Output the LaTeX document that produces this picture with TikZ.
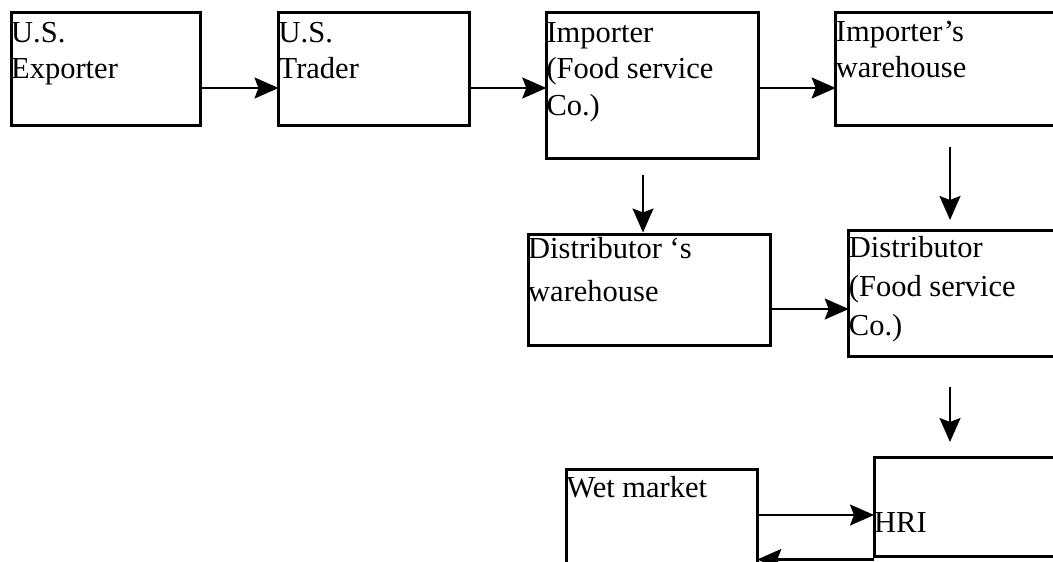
\documentclass[tikz,border=0pt]{standalone}
\usepackage{fontspec}
\setmainfont{Liberation Serif}
\usetikzlibrary{arrows.meta}

\begin{document}
\begin{tikzpicture}[x=1pt,y=-1pt,
	box/.style={draw,line width=3pt,rectangle,anchor=north west,inner sep=0pt,outer sep=0pt},
	lbl/.style={anchor=base west,inner sep=0pt,align=left,font=\fontsize{30.5}{36.5}\selectfont},
	flow/.style={line width=2.2pt,-{Stealth[length=24pt,width=21pt,inset=4pt]}}]
	\useasboundingbox (0,0) rectangle (1053,562);
	\clip (0,0) rectangle (1053,562);

	\node[box,minimum width=189.5pt,minimum height=113pt,label={[lbl,yshift=-66.5pt]north west:U.S.\\Exporter}] (exporter) at (11,12) {};
	\node[box,minimum width=191pt,minimum height=113pt,label={[lbl,yshift=-66.5pt]north west:U.S.\\Trader}] (trader) at (278.5,12) {};
	\node[box,minimum width=211.7pt,minimum height=146.7pt,label={[lbl,yshift=-103pt]north west:Importer\\(Food service\\Co.)}] (importer) at (546.3,12) {};
	\node[box,minimum width=250pt,minimum height=113pt,label={[lbl,yshift=-65.5pt]north west:Importer’s\\warehouse}] (impwh) at (835.7,12) {};
	\node[box,minimum width=242.7pt,minimum height=111.7pt,label={[lbl,yshift=-67.5pt,font=\fontsize{30.5}{43.5}\selectfont]north west:Distributor ‘s\\warehouse}] (distwh) at (528,234) {};
	\node[box,minimum width=250pt,minimum height=126pt,label={[lbl,yshift=-105pt,font=\fontsize{30.5}{39}\selectfont]north west:Distributor\\(Food service\\Co.)}] (distributor) at (848.7,230.3) {};
	\node[box,minimum width=191pt,minimum height=200pt,label={[lbl,yshift=-28pt]north west:Wet market}] (wet) at (566.3,469) {};
	\node[box,minimum width=250pt,minimum height=99.4pt,label={[lbl,yshift=-75pt]north west:HRI}] (hri) at (874,457.3) {};

	\coordinate (row1) at (0,88);
	\coordinate (row2) at (0,309);
	\coordinate (row3) at (0,515);
	\coordinate (row4) at (0,559.5);
	\coordinate (v1) at (643,175);
	\coordinate (v2a) at (950,147);
	\coordinate (v2b) at (950,220);
	\coordinate (v3a) at (950,387);
	\coordinate (v3b) at (950,442);

	\draw[flow] (exporter.east |- row1) -- (trader.west |- row1);
	\draw[flow] (trader.east |- row1) -- (importer.west |- row1);
	\draw[flow] (importer.east |- row1) -- (impwh.west |- row1);
	\draw[flow,shorten >=1.5pt] (v1) -- (v1 |- distwh.north);
	\draw[flow] (v2a) -- (v2b);
	\draw[flow] (distwh.east |- row2) -- (distributor.west |- row2);
	\draw[flow] (v3a) -- (v3b);
	\draw[flow] (wet.east |- row3) -- (hri.west |- row3);
	\draw[flow] (hri.west |- row4) -- (wet.east |- row4);
\end{tikzpicture}
\end{document}
